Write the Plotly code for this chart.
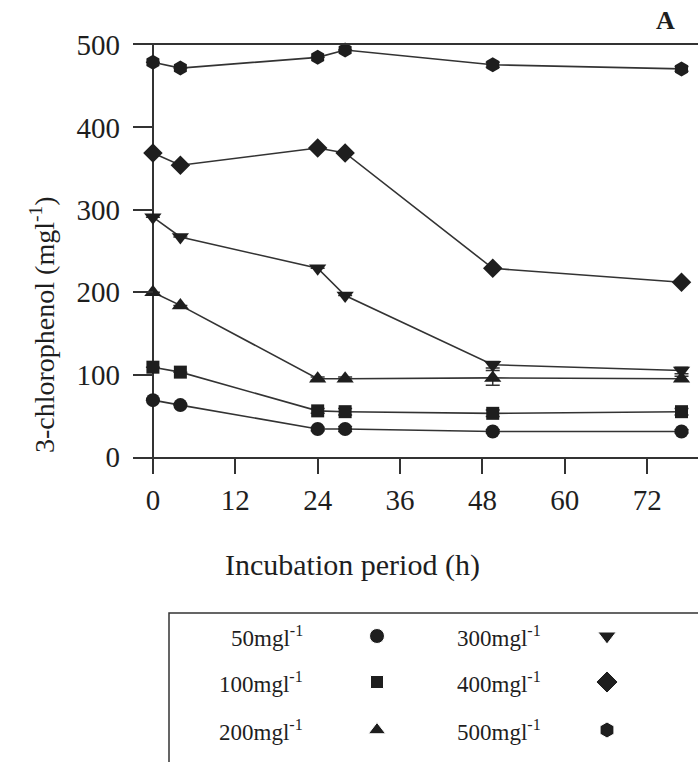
import plotly.graph_objects as go

# ---- data ----
time_h = [0, 4, 24, 28, 49.5, 77]
c50 = [69, 63, 34, 34, 31, 31]
c100 = [109, 103, 56, 55, 53, 55]
c200 = [200, 184, 95, 95, 96, 95]
c300 = [291, 267, 229, 196, 112, 105]
c400 = [369, 354, 375, 369, 229, 212]
c500 = [479, 472, 485, 494, 476, 471]

e50 = [0, 0, 2, 3, 2, 2]
e100 = [0, 0, 3, 4, 4, 4]
e200 = [0, 0, 2, 2, 9, 3]
e300 = [0, 0, 0, 0, 4, 4]
e400 = [0, 0, 0, 0, 0, 0]
e500 = [0, 0, 0, 0, 3, 3]

series_names = ["50mgl<sup>-1</sup>", "100mgl<sup>-1</sup>", "200mgl<sup>-1</sup>",
                "300mgl<sup>-1</sup>", "400mgl<sup>-1</sup>", "500mgl<sup>-1</sup>"]
series_vals = [c50, c100, c200, c300, c400, c500]
series_errs = [e50, e100, e200, e300, e400, e500]
symbols = ["circle", "square", "triangle-up", "triangle-down", "diamond", "hexagon"]
msizes = [14, 13, 15, 15, 15, 15]

x_ticks = [0, 12, 24, 36, 48, 60, 72]
y_ticks = [0, 100, 200, 300, 400, 500]

# ---- layout constants (pixels) ----
W, H = 698, 762
PL, PR, PT, PB = 133, 698, 45, 457
FONT = "Liberation Serif"
INK = "#1e1e1e"
LINE = "#333333"


def px(x):
    return x / W


def py(y):
    return 1 - y / H


fig = go.Figure()

for name, vals, errs, sym, ms in zip(series_names, series_vals, series_errs, symbols, msizes):
    fig.add_trace(go.Scatter(
        x=time_h, y=vals, mode="lines+markers", name=name,
        line=dict(color=LINE, width=1.6),
        marker=dict(symbol=sym, size=ms, color=INK, opacity=1),
        error_y=dict(type="data", array=errs, visible=True, color=LINE, thickness=1.5, width=7),
        cliponaxis=False, showlegend=False,
        xaxis="x", yaxis="y",
    ))

# ---- custom legend (text left of glyph, 2 columns x 3 rows) ----
LEG_L, LEG_T = 169, 613
col_text_right = [305, 543]
col_mark_x = [377, 607]
row_y = [636, 682, 730]

for i, (name, sym) in enumerate(zip(series_names, symbols)):
    c, r = divmod(i, 3)
    fig.add_annotation(
        x=px(col_text_right[c]), y=py(row_y[r]), xref="paper", yref="paper",
        text=name, showarrow=False, xanchor="right", yanchor="middle",
        font=dict(family=FONT, size=23, color=INK),
    )

leg_x = [col_mark_x[i // 3] for i in range(6)]
leg_y = [row_y[i % 3] for i in range(6)]
fig.add_trace(go.Scatter(
    x=leg_x, y=leg_y, mode="markers",
    marker=dict(symbol=symbols, size=[15, 13, 15, 16, 17, 16], color=INK, opacity=1),
    xaxis="x2", yaxis="y2", showlegend=False, hoverinfo="skip",
))

fig.add_shape(type="rect", xref="paper", yref="paper",
              x0=px(LEG_L), x1=px(W + 5), y0=py(H + 5), y1=py(LEG_T),
              line=dict(color=LINE, width=1.5), fillcolor="rgba(0,0,0,0)")

# ---- titles ----
fig.add_annotation(x=px(352), y=py(565), xref="paper", yref="paper",
                   text="Incubation period (h)", showarrow=False,
                   xanchor="center", yanchor="middle",
                   font=dict(family=FONT, size=30, color=INK))
fig.add_annotation(x=px(42), y=py(325), xref="paper", yref="paper",
                   text="3-chlorophenol (mgl<sup>-1</sup>)", showarrow=False,
                   textangle=-90, xanchor="center", yanchor="middle",
                   font=dict(family=FONT, size=28, color=INK))
fig.add_annotation(x=px(665), y=py(21), xref="paper", yref="paper",
                   text="<b>A</b>", showarrow=False,
                   xanchor="center", yanchor="middle",
                   font=dict(family=FONT, size=26, color=INK))

fig.update_layout(
    width=W, height=H,
    margin=dict(l=0, r=0, t=0, b=0),
    paper_bgcolor="white", plot_bgcolor="rgba(0,0,0,0)",
    font=dict(family=FONT, color=INK),
    xaxis=dict(
        domain=[px(PL), 1], range=[-2.9, 79.4],
        tickvals=x_ticks, ticks="outside", ticklen=15, tickwidth=1.5, tickcolor=LINE,
        showline=True, mirror=True, linecolor=LINE, linewidth=1.5,
        zeroline=True, zerolinecolor=LINE, zerolinewidth=1.5,
        showgrid=False, tickfont=dict(family=FONT, size=29, color=INK),
        ticklabelstandoff=1, automargin=False, anchor="y",
    ),
    yaxis=dict(
        domain=[py(PB), py(PT)], range=[0, 500],
        tickvals=y_ticks, ticks="inside", ticklen=20, tickwidth=1.5, tickcolor=LINE,
        showline=False, zeroline=False, showgrid=False,
        tickfont=dict(family=FONT, size=29, color=INK),
        ticklabelstandoff=12, automargin=False, anchor="x",
    ),
    xaxis2=dict(domain=[0, 1], range=[0, W], visible=False, anchor="y2", fixedrange=True),
    yaxis2=dict(domain=[0, 1], range=[H, 0], visible=False, anchor="x2", fixedrange=True),
)

fig.write_html("out.html")
